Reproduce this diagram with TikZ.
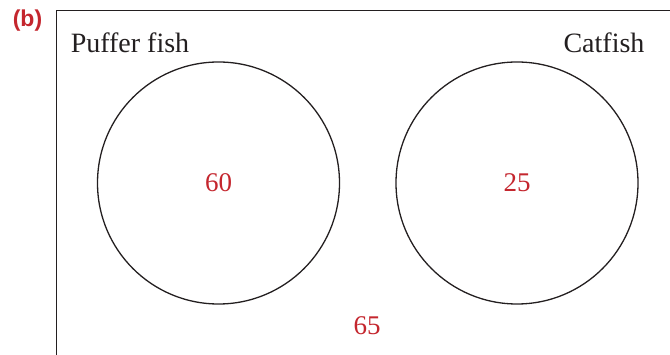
\documentclass[tikz,border=0pt]{standalone}
\usepackage{fontspec}
\setmainfont{Liberation Serif}
\newfontfamily\labelfont{Liberation Sans}
\usetikzlibrary{positioning}
\definecolor{ink}{HTML}{231F20}
\definecolor{crimson}{HTML}{C4262E}

\begin{document}
\begin{tikzpicture}[x=1pt,y=-1pt,
  setcircle/.style={circle,draw=ink,line width=1.3pt,minimum size=242pt,inner sep=0pt,
    text=crimson,font=\fontsize{27}{30}\selectfont},
  setname/.style={text=ink,font=\fontsize{28}{30}\selectfont,inner sep=0pt,anchor=base},
  count/.style={text=crimson,font=\fontsize{27}{30}\selectfont,inner sep=0pt}]
  \useasboundingbox (0,0) rectangle (670,355);
  \clip (0,0) rectangle (670,355);
  % universal set, cut by the page on the right and below
  \draw[ink,line width=1.5pt] (56.5,400) |- (720,10.5);
  \node[text=crimson,font=\labelfont\bfseries\fontsize{23}{26}\selectfont,inner sep=0pt] (part) at (27.5,20.5) {(b)};
  % the two sets
  \node[setcircle] (puffer) at (218.5,183) {60};
  \node[setcircle] (cat) at (517,183) {25};
  \node[setname] (puffername) at (130,53) {Puffer fish};
  \node[setname] (catname) at (604,53) {Catfish};
  \node[count] (outside) at (367,326) {65};
\end{tikzpicture}
\end{document}
